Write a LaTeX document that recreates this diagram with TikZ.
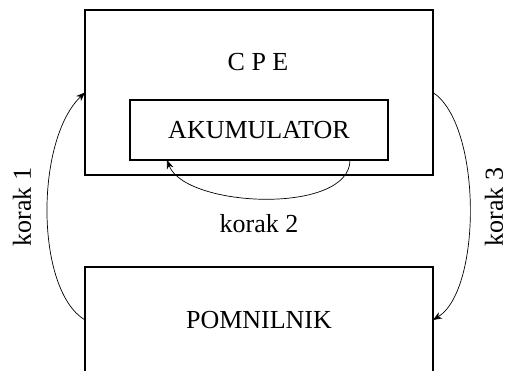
\documentclass[tikz,border=0pt]{standalone}
\usepackage{fontspec}
\setmainfont{Liberation Serif}
\usetikzlibrary{arrows.meta}
\begin{document}
\begin{tikzpicture}[x=1pt,y=-1pt,
  box/.style={draw,line width=1.4pt,inner sep=0pt,outer sep=0pt},
  txt/.style={font=\fontsize{26}{30}\selectfont,inner sep=0pt},
  arr/.style={line width=0.7pt,-{Stealth[length=9pt,width=7pt]}}]
\useasboundingbox (0,0) rectangle (507,371);
\node[box,minimum width=348pt,minimum height=165pt] (cpe) at (259,92.5) {};
\node[txt] (cpelab) at (258,62) {C P E};
\node[box,minimum width=258pt,minimum height=60pt,txt] (akum) at (259,130) {AKUMULATOR};
\begin{scope}
\clip (0,0) rectangle (507,371);
\node[box,minimum width=348pt,minimum height=106pt,txt] (mem) at (259,320) {POMNILNIK};
\end{scope}
\node[txt] (k2) at (259,224) {korak 2};
\node[txt,rotate=90] (k1) at (22,207) {korak 1};
\node[txt,rotate=90] (k3) at (494,207) {korak 3};
\draw[arr] (mem.west) .. controls (35,290) and (35,140) .. (cpe.west);
\draw[arr] (cpe.east) .. controls (482,125) and (482,290) .. (mem.east);
\draw[arr] ([xshift=91pt]akum.south) .. controls +(0,55) and +(18,48) .. ([xshift=-92pt]akum.south);
\end{tikzpicture}
\end{document}
